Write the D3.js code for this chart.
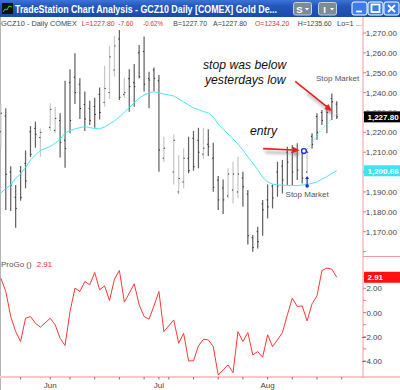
<!DOCTYPE html>
<html><head><meta charset="utf-8">
<script src="https://cdn.jsdelivr.net/npm/d3@7"></script>
<style>html,body{margin:0;padding:0;background:#fff;}svg{display:block;font-family:"Liberation Sans",Arial,sans-serif;}</style>
</head><body><svg id="c" width="400" height="390"></svg>
<script>
// ---------------- data ----------------
const dates = ["5/18","5/19","5/20","5/21","5/24","5/25","5/26","5/27","5/28","5/31",
"6/1","6/2","6/3","6/4","6/7","6/8","6/9","6/10","6/11","6/14",
"6/15","6/16","6/17","6/18","6/21","6/22","6/23","6/24","6/25","6/28",
"6/29","6/30","7/1","7/2","7/5","7/6","7/7","7/8","7/9","7/12",
"7/13","7/14","7/15","7/16","7/19","7/20","7/21","7/22","7/23","7/26",
"7/27","7/28","7/29","7/30","8/2","8/3","8/4","8/5","8/6","8/9",
"8/10","8/11","8/12","8/13","8/16","8/17","8/18","8/19","8/20"];
const futureSlots = ["8/23","8/24","8/25","8/26","8/27"];
const opens = [1220.3,1228.2,1200.0,1187.3,1200.5,1204.4,1220.3,1222.0,1217.4,null,
1222.5,1221.0,1226.0,1216.0,1245.0,1247.7,1244.2,1234.0,1232.0,1233.0,
1239.1,1235.1,1240.0,1251.4,1267.0,1239.0,1247.0,1245.0,1260.0,1260.6,
1247.0,1251.4,1246.0,1207.0,null,1200.0,1190.0,1195.0,1206.9,1217.0,
1216.0,1209.0,1214.0,1207.0,1196.0,1192.0,1188.0,1191.0,1190.0,1197.0,
1189.0,1167.0,1170.0,1184.0,1186.0,1193.0,1200.0,1203.0,1210.0,1210.0,
1211.0,1210.8,1200.0,1218.0,1228.0,1230.0,1232.0,1237.0,1234.2];
const highs = [1234.3,1232.1,1203.0,1193.5,1203.1,1210.9,1223.2,1225.4,1222.0,null,
1234.6,1232.9,1229.6,1246.0,1251.7,1259.8,1247.2,1240.5,1235.9,1237.4,
1242.6,1253.4,1263.5,1268.5,1271.5,1247.5,1251.7,1254.4,1264.0,1268.2,
1250.5,1252.6,1248.9,1217.8,null,1219.0,1208.6,1211.9,1217.8,1220.7,
1222.3,1222.3,1221.5,1214.8,1198.0,1196.3,1201.9,1205.2,1207.7,1200.2,
1191.0,1168.3,1172.5,1185.9,1193.8,1193.8,1205.2,1206.1,1212.8,1213.6,
1214.5,1211.9,1211.1,1219.5,1229.6,1231.2,1233.8,1239.6,1235.6];
const lows = [1212.8,1180.9,1180.4,1172.0,1185.6,1191.8,1207.6,1212.3,1207.7,null,
1220.7,1219.5,1207.4,1202.2,1219.5,1234.3,1226.7,1220.7,1223.7,1222.3,
1226.5,1232.9,1236.8,1248.0,1236.3,1237.4,1230.4,1232.9,1247.2,1240.5,
1232.1,1240.8,1200.2,1204.9,null,1193.8,1188.8,1191.8,1199.4,1200.7,
1201.9,1206.6,1208.1,1190.1,1180.9,1178.9,1186.8,1184.2,1186.8,1182.6,
1163.6,1159.9,1161.6,1168.0,1176.7,1181.7,1187.6,1189.3,1193.5,1193.5,
1196.0,1194.3,1199.4,1211.9,1216.1,1223.7,1219.5,1226.2,1226.7];
const closes = [1229.6,1198.9,1193.5,1181.7,1187.3,1195.5,1208.9,1219.0,1220.0,null,
1231.6,1227.0,1215.0,1211.9,1225.9,1240.0,1232.0,1226.7,1226.0,1229.0,
1230.0,1242.1,1258.0,1263.5,1237.6,1240.0,1243.0,1243.0,1248.0,1244.2,
1246.3,1247.2,1211.1,1212.0,null,1216.0,1196.8,1207.0,1200.7,1202.7,
1210.0,1212.0,1212.8,1192.3,1186.0,1186.0,1199.0,1199.0,1199.0,1192.6,
1168.0,1162.0,1165.0,1181.0,1182.5,1187.0,1193.0,1196.0,1205.0,1200.0,
1201.0,1197.0,1210.0,1214.0,1220.0,1226.0,1230.0,1235.4,1227.8];
const movingAvg = [1189.5,1191.7,1193.5,1197.0,1199.0,1202.3,1206.1,1208.6,1210.9,null,
1212.9,1214.6,1216.6,1219.7,1220.9,1221.7,1222.4,1222.9,1222.4,1221.9,
1221.8,1222.7,1224.2,1225.7,1227.7,1230.2,1232.5,1234.8,1237.3,1238.8,
1239.8,1240.5,1239.8,1239.3,null,1238.3,1236.8,1235.3,1233.8,1232.3,
1231.5,1230.5,1229.7,1227.7,1224.2,1221.7,1219.2,1216.7,1214.1,1211.1,
1207.6,1204.6,1201.1,1197.5,1195.0,1194.0,1193.5,1193.4,1193.3,1193.2,
1193.2,1193.5,1193.8,1194.3,1195.0,1196.5,1197.7,1199.3,1200.66];
const trailDates = ["8/12","8/13","8/16","8/17","8/18","8/19","8/20"];
const trailValues = [1211.6,1214.6,1218.2,1221.7,1224.2,1227.2,1229.5];
const proGo = [2.84,1.74,-0.33,-1.57,-2.39,-0.47,-0.33,-0.88,-1.21,null,
-0.47,-1.02,-2.12,-2.72,0.08,2.01,1.74,2.56,2.29,3.31,
1.88,2.20,0.99,2.76,3.47,0.86,1.60,2.37,0.64,-0.33,
-0.55,0.55,1.74,-1.57,null,-0.61,-2.53,-1.71,-3.99,-3.99,
-2.75,-2.20,-2.26,-2.81,-5.15,-4.74,-4.32,-4.96,-1.57,-2.39,
-1.65,-3.50,-3.22,-3.69,-1.84,-2.81,-2.26,-1.65,-0.19,1.19,
0.50,0.55,-0.69,0.72,1.38,3.47,3.67,3.58,2.91];
const priceTicks = [1160,1170,1180,1190,1200,1210,1220,1230,1240,1250,1260,1270];
const priceLabels = [1170,1180,1190,1210,1220,1240,1250,1260,1270]; // 1,200 hidden by MA box
const partlyHiddenLabel = 1230; // mostly covered by the last-price box
const proGoTicks = [3,2,1,0,-1,-2,-3,-4];
const proGoLabels = [2,0,-2,-4];
const monthNames = ["Jun","Jul","Aug"];
const monthStarts = ["6/1","7/1","8/2"];
const weekTicks = ["5/24","6/1","6/7","6/14","6/21","6/28","7/1","7/5","7/12","7/19","7/26","8/2","8/9","8/16","8/23"];
const lastPrice = 1227.80, lastMA = 1200.66, lastProGo = 2.91;

// ---------------- scales ----------------
const svg = d3.select("#c");
const slots = dates.concat(futureSlots);
const x = d3.scalePoint().domain(slots).range([0.84, 0.84 + (slots.length - 1) * 4.94]);
const y = d3.scaleLinear().domain([1170, 1270]).range([231.7, 33]);
const py = d3.scaleLinear().domain([-4, 2]).range([361, 288.3]);
const AX = 363;
const fmtP = d3.format(",.2f"), fmtG = d3.format(".2f");
const pink = "#f39a9a";

const defs = svg.append("defs");
const tg = defs.append("linearGradient").attr("id","tb").attr("x1",0).attr("y1",0).attr("x2",0).attr("y2",1);
tg.append("stop").attr("offset","0").attr("stop-color","#3d74d6");
tg.append("stop").attr("offset","0.35").attr("stop-color","#2457bd");
tg.append("stop").attr("offset","1").attr("stop-color","#1c4aa6");
defs.append("filter").attr("id","blur").attr("x","-50%").attr("y","-50%").attr("width","200%").attr("height","200%")
  .append("feGaussianBlur").attr("stdDeviation",1.6);
const bxY = y(lastPrice) - 5.5;
defs.append("clipPath").attr("id","abovebox").append("rect").attr("x",AX).attr("y",0).attr("width",40).attr("height",bxY - 0.5);

// ---------------- title bar ----------------
svg.append("rect").attr("x",0).attr("y",0).attr("width",400).attr("height",17).attr("fill","url(#tb)");
svg.append("rect").attr("x",2).attr("y",3).attr("width",11).attr("height",11).attr("fill","#111");
svg.append("polyline").attr("points","3,12 5,9 7,10 9,6 12,7").attr("fill","none").attr("stroke","#3c3").attr("stroke-width",1);
svg.append("text").attr("x",15).attr("y",0).attr("transform","translate(0,12.5) scale(1,1.18)")
  .attr("fill","#fff").attr("font-weight","bold")
  .attr("font-size",8.5).attr("textLength",262).attr("lengthAdjust","spacingAndGlyphs")
  .text("TradeStation Chart Analysis - GCZ10 Daily [COMEX] Gold De...");
[["S",293.5],["I",318.5]].forEach(([t,bx])=>{
  svg.append("rect").attr("x",bx).attr("y",2.5).attr("width",18).attr("height",12.5).attr("rx",2)
    .attr("fill","#7e8a96").attr("stroke","#c9d0d8").attr("stroke-width",1);
  svg.append("text").attr("x",bx+6).attr("y",12.5).attr("text-anchor","middle").attr("fill","#fff")
    .attr("font-weight","bold").attr("font-size",9.5).text(t);
  svg.append("path").attr("d",`M${bx+11.5},8 h4 l-2,2.5 z`).attr("fill","#fff");
});
[352,368,384].forEach((bx,k)=>{
  svg.append("rect").attr("x",bx).attr("y",2).attr("width",15).attr("height",13).attr("rx",2)
    .attr("fill","#3f7ce8").attr("stroke","#fff").attr("stroke-width",1);
  const g = svg.append("g").attr("stroke","#fff").attr("stroke-width",1.8).attr("fill","none");
  if(k===0) g.append("line").attr("x1",bx+4).attr("x2",bx+10).attr("y1",11.5).attr("y2",11.5);
  if(k===1) g.append("rect").attr("x",bx+3.5).attr("y",4.5).attr("width",8).attr("height",7.5);
  if(k===2){ g.append("line").attr("x1",bx+4).attr("y1",5).attr("x2",bx+11).attr("y2",12);
             g.append("line").attr("x1",bx+11).attr("y1",5).attr("x2",bx+4).attr("y2",12); }
});

// left border
svg.append("line").attr("x1",0.5).attr("x2",0.5).attr("y1",17).attr("y2",390).attr("stroke","#b4b4b4");

// ---------------- header text ----------------
const head = svg.append("g").attr("font-size",7.5);
[["GCZ10 - Daily  COMEX",1,76,"#444"],["L=1227.80",81.7,33,"#e83030"],["-7.60",118.3,15,"#e83030"],
 ["-0.62%",143.3,19.7,"#e83030"],["B=1227.70",173.3,33.7,"#444"],["A=1227.80",213,34,"#444"],
 ["O=1234.20",255,34.3,"#e83030"],["H=1235.60",297.7,34,"#444"],["Lo=1 ...",337,25,"#444"]]
.forEach(([t,tx,w,c])=>head.append("text").attr("x",tx).attr("y",26).attr("fill",c)
  .attr("textLength",w).attr("lengthAdjust","spacingAndGlyphs").text(t));

// ---------------- price pane ----------------
const idx = d3.range(dates.length).filter(i => highs[i] !== null);
const bars = svg.append("g");
idx.forEach(i=>{
  const cx = x(dates[i]);
  const up = closes[i] > opens[i];
  bars.append("line").attr("x1",cx).attr("x2",cx).attr("y1",y(highs[i])).attr("y2",y(lows[i]))
    .attr("stroke", up ? "#c8c8c8" : "#646464").attr("stroke-width",1.25);
  bars.append("line").attr("x1",cx-1.1).attr("x2",cx).attr("y1",y(opens[i])).attr("y2",y(opens[i]))
    .attr("stroke","#222").attr("stroke-width",1);
  bars.append("line").attr("x1",cx).attr("x2",cx+1.1).attr("y1",y(closes[i])).attr("y2",y(closes[i]))
    .attr("stroke","#222").attr("stroke-width",1);
});
const maLine = d3.line().x(i=>x(dates[i])).y(i=>y(movingAvg[i]));
svg.append("path").attr("d",maLine(idx)).attr("fill","none").attr("stroke","#4ae8f4").attr("stroke-width",1);
svg.append("path").attr("d",d3.line().x((d,k)=>x(trailDates[k])).y(d=>y(d))(trailValues))
  .attr("fill","none").attr("stroke","#4ae8f4").attr("stroke-width",1).attr("stroke-dasharray","1.5,1.5");

// annotations
function arrow(g, x1, y1, x2, y2, col){
  const a = Math.atan2(y2-y1, x2-x1), L = 7, W = 3.2;
  const bx = x2 - L*Math.cos(a), by = y2 - L*Math.sin(a);
  g.append("line").attr("x1",x1).attr("y1",y1).attr("x2",bx).attr("y2",by).attr("stroke",col).attr("stroke-width",1.6);
  g.append("path").attr("d",`M${x2},${y2} L${bx - W*Math.sin(a)},${by + W*Math.cos(a)} L${bx + W*Math.sin(a)},${by - W*Math.cos(a)} Z`).attr("fill",col);
}
const upTail = [x("8/10")-2, y(1245.7)], upHead = [x("8/19"), y(1230.8)];
const enTail = [x("7/30")+0.5, y(1211.8)], enHead = [x("8/11")-2.5, y(1211.0)];
const sh = svg.append("g").attr("filter","url(#blur)").attr("opacity",0.75);
arrow(sh, upTail[0]+12, upTail[1]+12, upHead[0]+1.5, upHead[1]+3, "#777");
arrow(sh, enTail[0]+2, enTail[1]+3.5, enHead[0]+1, enHead[1]+3.5, "#777");
const an = svg.append("g");
arrow(an, upTail[0], upTail[1], upHead[0], upHead[1], "#ee1c1c");
arrow(an, enTail[0], enTail[1], enHead[0], enHead[1], "#ee1c1c");
an.append("circle").attr("cx",x("8/11")+1.8).attr("cy",y(1210.6)).attr("r",2.4)
  .attr("fill","#fff").attr("stroke","#1530e0").attr("stroke-width",1.4);
const sx = x("8/12");
an.append("line").attr("x1",sx).attr("x2",sx).attr("y1",y(1197.2)).attr("y2",y(1193)).attr("stroke","#1530e0").attr("stroke-width",1.2);
an.append("path").attr("d",`M${sx},${y(1198)} l-2,3 h4 z`).attr("fill","#1530e0");
an.append("circle").attr("cx",sx).attr("cy",y(1193)).attr("r",1.8).attr("fill","#1530e0");
an.append("text").attr("x",sx).attr("y",196.7).attr("text-anchor","middle").attr("font-size",8).attr("fill","#555").text("Stop Market");
an.append("text").attr("x",316).attr("y",81).attr("font-size",8).attr("fill","#555").text("Stop Market");
const it = an.append("g").attr("font-style","italic").attr("font-size",12.2).attr("fill","#111");
it.append("text").attr("x",203).attr("y",69).text("stop was below");
it.append("text").attr("x",205).attr("y",84).text("yesterdays low");
it.append("text").attr("x",250).attr("y",134.5).text("entry");

// ---------------- ProGo pane ----------------
svg.append("text").attr("x",1).attr("y",267).attr("font-size",8).attr("fill","#555").text("ProGo ()");
svg.append("text").attr("x",36.7).attr("y",267).attr("font-size",8).attr("fill","#e83030").text(fmtG(lastProGo));
const pidx = d3.range(dates.length).filter(i => proGo[i] !== null);
svg.append("path").attr("d",d3.line().x(i=>x(dates[i])).y(i=>py(proGo[i]))(pidx))
  .attr("fill","none").attr("stroke","#ff3838").attr("stroke-width",1);

// ---------------- axes ----------------
svg.append("line").attr("x1",0).attr("x2",400).attr("y1",377).attr("y2",377).attr("stroke","#ffc4c4").attr("stroke-width",2);
const xa = svg.append("g");
weekTicks.forEach(d=>xa.append("line").attr("x1",x(d)).attr("x2",x(d)).attr("y1",377).attr("y2",379.5).attr("stroke","#777"));
monthNames.forEach((m,k)=>xa.append("text").attr("x",x(monthStarts[k])).attr("y",388).attr("text-anchor","middle")
  .attr("font-size",8).attr("fill","#444").text(m));
svg.append("line").attr("x1",AX).attr("x2",AX).attr("y1",17).attr("y2",378).attr("stroke",pink).attr("stroke-width",1);
svg.append("line").attr("x1",AX).attr("x2",400).attr("y1",256.5).attr("y2",256.5).attr("stroke",pink).attr("stroke-width",1);
const ra = svg.append("g").attr("font-size",8).attr("fill","#444");
priceTicks.forEach(v=>ra.append("line").attr("x1",AX).attr("x2",AX+3).attr("y1",y(v)).attr("y2",y(v)).attr("stroke","#e77"));
priceLabels.forEach(v=>ra.append("text").attr("x",397).attr("y",y(v)+3).attr("text-anchor","end").text(fmtP(v)));
ra.append("text").attr("x",397).attr("y",y(partlyHiddenLabel)+3).attr("text-anchor","end")
  .attr("clip-path","url(#abovebox)").text(fmtP(partlyHiddenLabel));
proGoTicks.forEach(v=>ra.append("line").attr("x1",AX).attr("x2",AX+3).attr("y1",py(v)).attr("y2",py(v)).attr("stroke","#e77"));
proGoLabels.forEach(v=>ra.append("text").attr("x",382).attr("y",py(v)+3).attr("text-anchor","end").text(fmtG(v)));
function box(yc, bg, t){
  svg.append("rect").attr("x",364).attr("y",yc-5.5).attr("width",36).attr("height",11).attr("fill",bg);
  svg.append("text").attr("x",367.5).attr("y",yc+3).attr("font-size",8).attr("font-weight","bold").attr("fill","#fff").text(t);
}
box(y(lastPrice), "#000", fmtP(lastPrice));
box(y(lastMA), "#3fe3f0", fmtP(lastMA));
box(py(lastProGo), "#ff1010", fmtG(lastProGo));
</script></body></html>
